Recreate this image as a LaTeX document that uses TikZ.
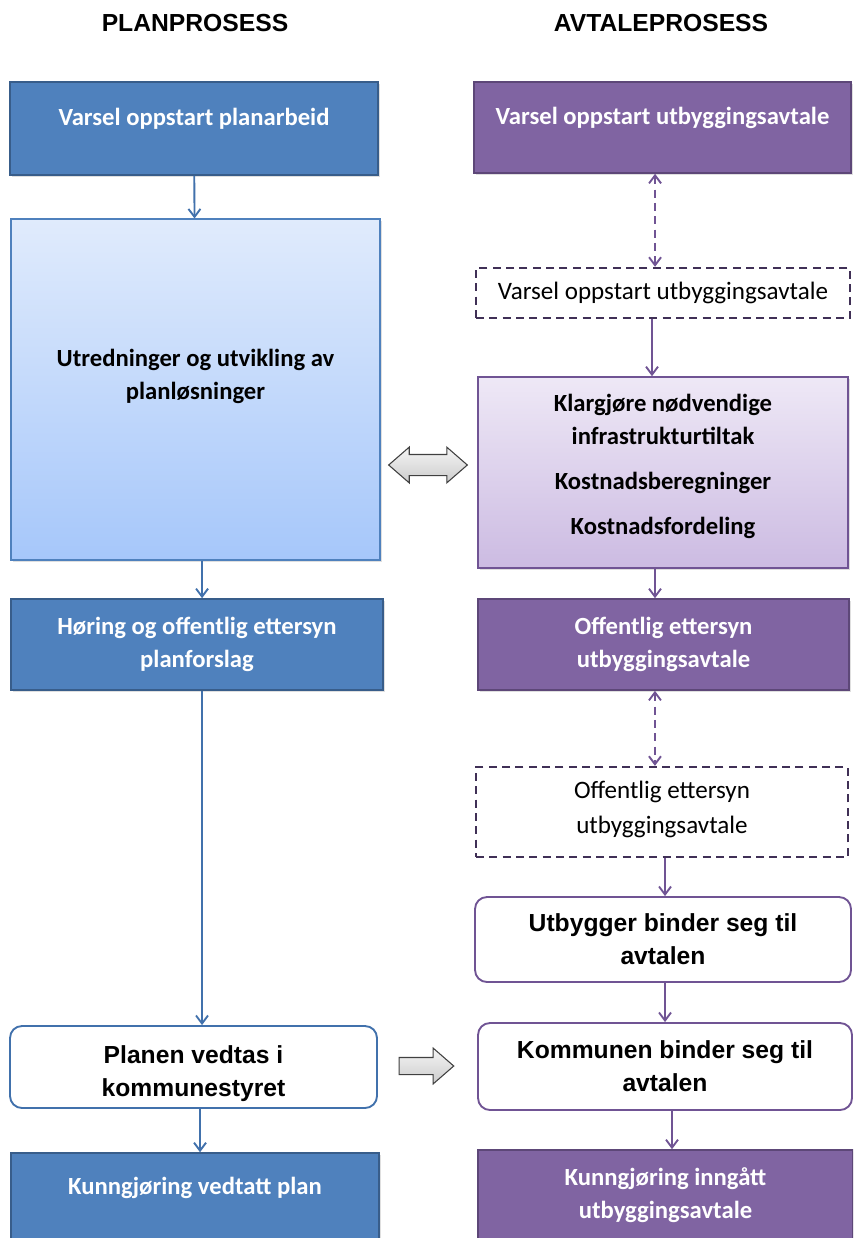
\documentclass[tikz,border=0pt]{standalone}
\usepackage{fontspec}
\setmainfont{Carlito}
\newfontfamily\arialbold[BoldFont={Liberation Sans Bold}]{Liberation Sans}
\usetikzlibrary{arrows.meta,shapes.arrows,shadows}
\definecolor{planBlue}{RGB}{79,129,189}
\definecolor{planEdge}{RGB}{56,93,138}
\definecolor{planLine}{RGB}{65,113,172}
\definecolor{planTop}{RGB}{224,235,252}
\definecolor{planBot}{RGB}{166,199,250}
\definecolor{dealPurple}{RGB}{128,100,162}
\definecolor{dealEdge}{RGB}{93,71,120}
\definecolor{dealDash}{RGB}{64,48,86}
\definecolor{dealLine}{RGB}{112,84,148}
\definecolor{dealTop}{RGB}{238,232,246}
\definecolor{dealBot}{RGB}{204,187,226}
\newcommand{\BoxFont}{\bfseries\fontsize{18.5}{24.75}\selectfont}
\newcommand{\RoundFont}{\arialbold\bfseries\fontsize{18.5}{24.75}\selectfont}
\newcommand{\Lift}[2]{\raisebox{#1}[\height][\depth]{\begin{tabular}{@{}c@{}}#2\end{tabular}}}

\begin{document}
\begin{tikzpicture}[x=0.75pt,y=-0.75pt,
  shade box/.style={drop shadow={shadow xshift=1.2pt,shadow yshift=-1.2pt,opacity=0.25}},
  bluebox/.style={draw=planEdge,fill=planBlue,line width=1.2pt,text=white,font=\BoxFont,align=center,inner sep=0pt},
  purplebox/.style={draw=dealEdge,fill=dealPurple,line width=1.2pt,text=white,font=\BoxFont,align=center,inner sep=0pt},
  dashbox/.style={draw=dealDash,fill=white,line width=1.8pt,dash pattern=on 6pt off 4pt,font=\fontsize{18.8}{26.25}\selectfont,align=center,inner sep=0pt},
  roundbox/.style={draw=#1,fill=white,line width=1.4pt,rounded corners=9pt,font=\RoundFont,align=center,inner sep=0pt},
  flow/.style={draw=#1,line width=1.4pt,-{Straight Barb[length=6pt,width=9pt,line width=1.4pt]}},
  dashflow/.style={draw=dealLine,line width=1.4pt,dash pattern=on 6pt off 4pt,{Straight Barb[length=6pt,width=9pt,line width=1.4pt]}-{Straight Barb[length=6pt,width=9pt,line width=1.4pt]}},
  blockarrow/.style={draw=black!75,line width=0.8pt,top color=gray!8,bottom color=gray!40,inner xsep=0pt}
]
\clip (0,0) rectangle (853,1238);
\fill[white] (0,0) rectangle (853,1238);

\node[font=\arialbold\bfseries\fontsize{18.5}{22}\selectfont] (plan) at (195,23) {PLANPROSESS};
\node[font=\arialbold\bfseries\fontsize{18.5}{22}\selectfont] (deal) at (661,23) {AVTALEPROSESS};

\node[bluebox,shade box,minimum width=276pt,minimum height=69.75pt] (p1) at (194,128.5) {\Lift{7.5pt}{Varsel oppstart planarbeid}};
\node[shade box,draw=planBlue,line width=0.8pt,top color=planTop,bottom color=planBot,minimum width=276.75pt,minimum height=255.75pt,font=\BoxFont,align=center,inner sep=0pt] (p2) at (195.5,389.5) {\Lift{9.75pt}{Utredninger og utvikling av\\planløsninger}};
\node[bluebox,shade box,minimum width=279pt,minimum height=68.25pt] (p3) at (197,644.5) {Høring og offentlig ettersyn\\planforslag};
\node[roundbox=planLine,minimum width=275.25pt,minimum height=61.5pt] (p4) at (193.5,1067) {\Lift{-4.5pt}{Planen vedtas i\\kommunestyret}};
\node[bluebox,shade box,minimum width=276pt,minimum height=66pt] (p5) at (195,1197) {\Lift{6.75pt}{Kunngjøring vedtatt plan}};

\node[purplebox,shade box,minimum width=282.75pt,minimum height=68.25pt] (d1) at (662.5,127.5) {\Lift{7pt}{Varsel oppstart utbyggingsavtale}};
\node[dashbox,minimum width=280.5pt,minimum height=37.5pt] (d2) at (663,293) {Varsel oppstart utbyggingsavtale};
\node[shade box,draw=dealLine,line width=1.2pt,top color=dealTop,bottom color=dealBot,minimum width=277.5pt,minimum height=143.25pt,font=\BoxFont,align=center,inner sep=0pt] (d3) at (663,472.5) {\Lift{4.75pt}{Klargjøre nødvendige\\infrastrukturtiltak\\[9.5pt]Kostnadsberegninger\\[8.5pt]Kostnadsfordeling}};
\node[purplebox,shade box,minimum width=278.25pt,minimum height=68.25pt] (d4) at (663.5,644.5) {Offentlig ettersyn\\utbyggingsavtale};
\node[dashbox,minimum width=279pt,minimum height=67.5pt] (d5) at (662,812) {\Lift{2pt}{Offentlig ettersyn\\utbyggingsavtale}};
\node[roundbox=dealLine,minimum width=282pt,minimum height=63.75pt] (d6) at (663,939.5) {Utbygger binder seg til\\avtalen};
\node[roundbox=dealLine,minimum width=280.5pt,minimum height=65.25pt] (d7) at (665,1066.5) {Kommunen binder seg til\\avtalen};
\node[purplebox,shade box,minimum width=281.25pt,minimum height=67.5pt] (d8) at (665.5,1195) {Kunngjøring inngått\\utbyggingsavtale};

\node[blockarrow,double arrow,double arrow head extend=5.5pt,double arrow tip angle=82,inner ysep=7.5pt,minimum height=59pt] (swap) at (428,465) {};
\node[blockarrow,single arrow,single arrow head extend=7pt,single arrow tip angle=82,inner ysep=6pt,minimum height=41pt] (pass) at (421.5,1066) {};

\draw[flow=planLine] (p1) -- (p2);
\draw[flow=planLine] ([xshift=4.9pt]p2.south) -- ([xshift=4.9pt]p2.south |- p3.north);
\draw[flow=planLine] ([xshift=3.75pt]p3.south) -- ([xshift=3.75pt]p3.south |- p4.north);
\draw[flow=planLine] ([xshift=4.9pt]p4.south) -- ([xshift=4.9pt]p4.south |- p5.north);

\draw[dashflow] ([xshift=-5.6pt]d1.south) -- ([xshift=-5.6pt]d1.south |- d2.north);
\draw[flow=dealLine] ([xshift=-8.25pt]d2.south) -- ([xshift=-8.25pt]d2.south |- d3.north);
\draw[flow=dealLine] ([xshift=-6pt]d3.south) -- ([xshift=-6pt]d3.south |- d4.north);
\draw[dashflow] ([xshift=-6.4pt]d4.south) -- ([xshift=-6.4pt]d4.south |- d5.north);
\draw[flow=dealLine] ([xshift=2.25pt]d5.south) -- ([xshift=2.25pt]d5.south |- d6.north);
\draw[flow=dealLine] ([xshift=1.5pt]d6.south) -- ([xshift=1.5pt]d6.south |- d7.north);
\draw[flow=dealLine] ([xshift=5.25pt]d7.south) -- ([xshift=5.25pt]d7.south |- d8.north);
\end{tikzpicture}
\end{document}
